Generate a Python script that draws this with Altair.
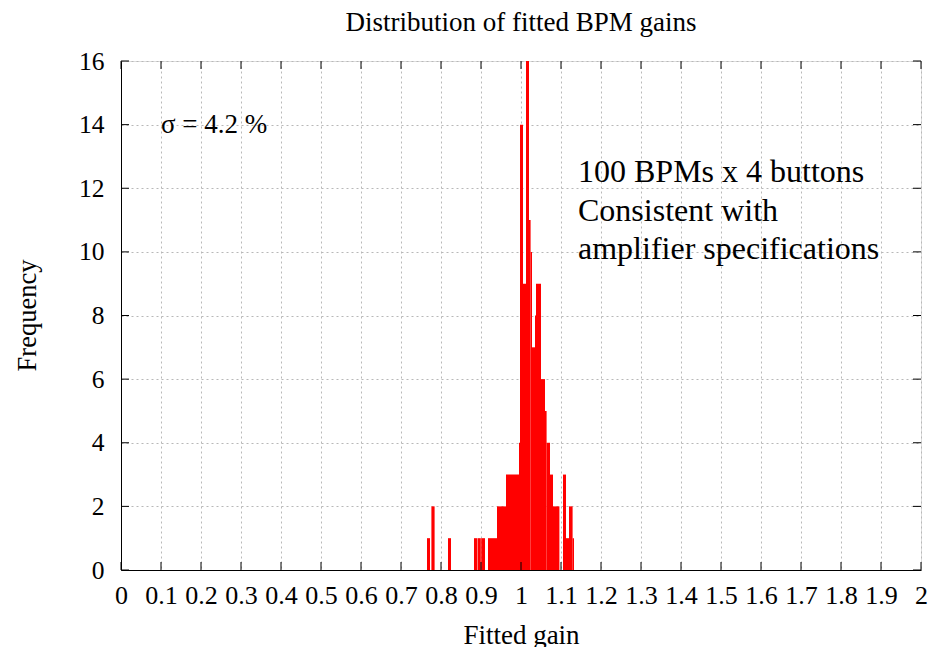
import altair as alt
import pandas as pd

# Histogram steps: bin start, bin end, count
bin_start = [0.765, 0.776, 0.8175, 0.8825, 0.8915, 0.9005, 0.9175, 0.94, 0.9625, 0.995,
             0.9975, 1.005, 1.0125, 1.02, 1.024, 1.0275, 1.035, 1.0375, 1.05, 1.06,
             1.064, 1.0725, 1.08, 1.105, 1.1125, 1.12, 1.129]
bin_end = [0.7725, 0.784, 0.825, 0.8905, 0.8995, 0.91, 0.94, 0.9625, 0.995, 0.9975,
           1.005, 1.0125, 1.02, 1.024, 1.0275, 1.035, 1.0375, 1.05, 1.06, 1.064,
           1.0725, 1.08, 1.096, 1.1125, 1.12, 1.129, 1.1325]
counts = [1, 2, 1, 1, 1, 1, 1, 2, 3, 4,
          14, 9, 16, 11, 10, 7, 8, 9, 6, 5,
          4, 3, 2, 3, 1, 2, 1]

x_ticks = [0, 0.1, 0.2, 0.3, 0.4, 0.5, 0.6, 0.7, 0.8, 0.9, 1.0,
           1.1, 1.2, 1.3, 1.4, 1.5, 1.6, 1.7, 1.8, 1.9, 2.0]
y_ticks = [0, 2, 4, 6, 8, 10, 12, 14, 16]

sigma_text = ["σ = 4.2 %"]
sigma_x = [0.1]
sigma_y = [14.0]
note_lines = ["100 BPMs x 4 buttons", "Consistent with", "amplifier specifications"]
note_x = [1.1425, 1.1425, 1.1425]
note_y = [12.5, 11.28, 10.08]

FONT = "Liberation Serif, Times New Roman, serif"
W, H = 800, 509
TICK = 8

hist = pd.DataFrame({"start": bin_start, "end": bin_end, "count": counts})
xt = pd.DataFrame({"v": x_ticks})
yt = pd.DataFrame({"v": y_ticks})
notes = pd.DataFrame({"t": note_lines, "x": note_x, "y": note_y})
sig = pd.DataFrame({"t": sigma_text, "x": sigma_x, "y": sigma_y})

xscale = alt.Scale(domain=[0, 2], nice=False, zero=False)
yscale = alt.Scale(domain=[0, 16], nice=False)

common = dict(ticks=False, labelOverlap=False, labelFlush=False, labelBound=False,
              labelSeparation=0,
              labelFont=FONT, labelColor="black",
              titleFont=FONT, titleFontWeight="normal", titleColor="black",
              titleBaseline="alphabetic", titleAlign="center",
              grid=True, gridColor="#b8b8b8", gridDash=[2, 3], gridWidth=1,
              domainColor="black")

xaxis = alt.Axis(values=x_ticks, format="~g", title="Fitted gain", labelPadding=12,
                 labelFontSize=26,
                 titleX=400, titleY=73, titleFontSize=27, **common)
yaxis = alt.Axis(values=y_ticks, format="d", title="Frequency", labelPadding=17,
                 labelFontSize=25.5,
                 titleX=-86, titleY=254, titleAngle=270, titleFontSize=26.5, **common)


def X(field):
    return alt.X(field, scale=xscale, axis=xaxis, title="Fitted gain")


def Y(field):
    return alt.Y(field, scale=yscale, axis=yaxis, title="Frequency")


bars = alt.Chart(hist).mark_rect(color="#ff0000").encode(
    x=X("start:Q"),
    x2="end:Q",
    y=Y("count:Q"),
    y2=alt.datum(0),
)

bottom_ticks = alt.Chart(xt).mark_rule(color="black", strokeWidth=1).encode(
    x=X("v:Q"), y=alt.value(H), y2=alt.value(H - TICK))
top_ticks = alt.Chart(xt).mark_rule(color="black", strokeWidth=1).encode(
    x=X("v:Q"), y=alt.value(0), y2=alt.value(TICK))
left_ticks = alt.Chart(yt).mark_rule(color="black", strokeWidth=1).encode(
    y=Y("v:Q"), x=alt.value(0), x2=alt.value(TICK))
right_ticks = alt.Chart(yt).mark_rule(color="black", strokeWidth=1).encode(
    y=Y("v:Q"), x=alt.value(W), x2=alt.value(W - TICK))

sigma = alt.Chart(sig).mark_text(font=FONT, fontSize=27, align="left", baseline="middle",
                                 color="black").encode(
    x=X("x:Q"), y=Y("y:Q"), text="t:N")

note = alt.Chart(notes).mark_text(font=FONT, fontSize=32, align="left", baseline="middle",
                                  color="black").encode(
    x=X("x:Q"), y=Y("y:Q"), text="t:N")

chart = alt.layer(bars, bottom_ticks, top_ticks, left_ticks, right_ticks, sigma, note).properties(
    width=W, height=H,
    title=alt.TitleParams("Distribution of fitted BPM gains", font=FONT, fontSize=27,
                          fontWeight="normal", color="black", anchor="middle", offset=12),
    autosize=alt.AutoSizeParams(type="none"),
    padding={"left": 121, "top": 61, "right": 11, "bottom": 77},
).configure_view(stroke="black", strokeWidth=1).configure(background="white").configure_axis(
    labelOverlap=False
)

chart.save("out.html", embed_options={"renderer": "svg", "actions": False})
